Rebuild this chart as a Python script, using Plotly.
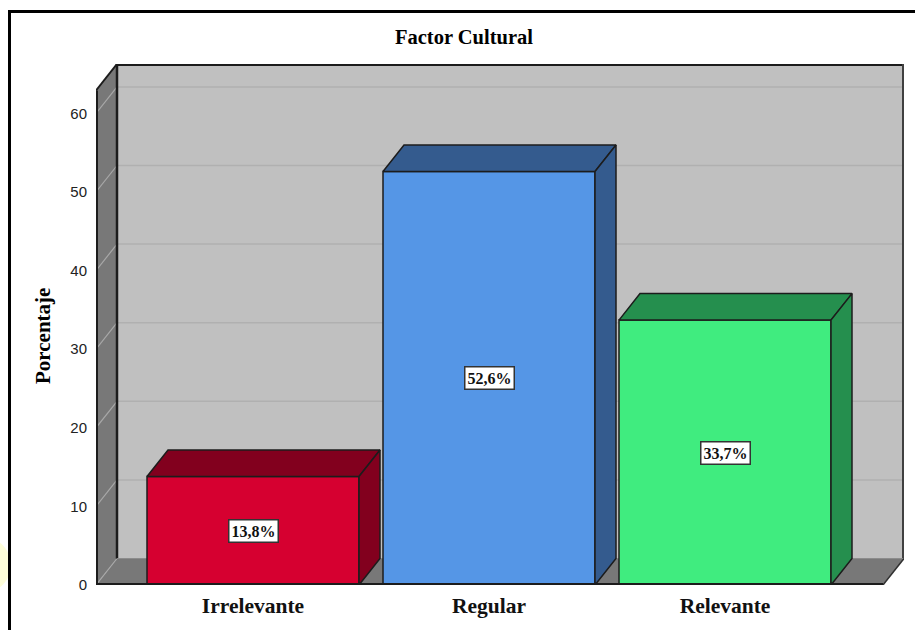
import plotly.graph_objects as go

# Chart content
title = "Factor Cultural"
y_title = "Porcentaje"
categories = ["Irrelevante", "Regular", "Relevante"]
values = [13.8, 52.6, 33.7]
value_labels = ["13,8%", "52,6%", "33,7%"]
y_ticks = [0, 10, 20, 30, 40, 50, 60]
front_colors = ["#d60030", "#5596e6", "#40ec7f"]
side_colors = ["#82001e", "#345b8e", "#258f4e"]

# Extruded look: the back plane is offset from the front plane by this much
WIDTH, HEIGHT = 915, 630
LEFT, RIGHT, TOP, BOTTOM = 96, 904, 64, 585
PX_PER_CAT = 236
PX_PER_UNIT = 7.86
DX = 21 / PX_PER_CAT
DY = 26.5 / PX_PER_UNIT
BAR_W = 212 / PX_PER_CAT

X_MIN = (LEFT - 253) / PX_PER_CAT
X_MAX = (RIGHT - 253) / PX_PER_CAT
Y_MAX = (BOTTOM - TOP) / PX_PER_UNIT
FRONT_TOP = Y_MAX - DY
FRONT_RIGHT = X_MAX - DX
EDGE = "#1c1c1c"


def poly(xs, ys, fill, line=None, width=0, layer="below"):
    path = "M" + " L".join(f"{x},{y}" for x, y in zip(xs, ys)) + " Z"
    return dict(type="path", path=path, xref="x", yref="y", fillcolor=fill, layer=layer,
                line=dict(color=line or fill, width=width))


def seg(x0, y0, x1, y1, color, width, layer="below"):
    return dict(type="line", x0=x0, y0=y0, x1=x1, y1=y1, xref="x", yref="y", layer=layer,
                line=dict(color=color, width=width))


def px_x(x):
    return (x - LEFT) / (RIGHT - LEFT)


def px_y(y):
    return (BOTTOM - y) / (BOTTOM - TOP)


def page(x0, y0, x1, y1):
    # frame lines positioned in page pixels
    return dict(type="line", xref="paper", yref="paper",
                x0=px_x(x0), x1=px_x(x1), y0=px_y(y0), y1=px_y(y1),
                line=dict(color="#000000", width=3))


shapes = [
    # pale smudge at the lower left, outside the frame
    dict(type="circle", xref="paper", yref="paper", layer="below",
         x0=px_x(-40), x1=px_x(11), y0=px_y(592), y1=px_y(538),
         fillcolor="#fdfdd9", line=dict(width=0)),
    # back wall, side wall, floor
    poly([X_MIN + DX, X_MAX, X_MAX, X_MIN + DX], [DY, DY, Y_MAX, Y_MAX], "#c0c0c0"),
    poly([X_MIN, X_MIN + DX, X_MIN + DX, X_MIN], [0, DY, Y_MAX, FRONT_TOP], "#787878"),
    poly([X_MIN, FRONT_RIGHT, X_MAX, X_MIN + DX], [0, 0, DY, DY], "#787878"),
]
for t in y_ticks:
    if t:
        shapes.append(seg(X_MIN + DX, t + DY, X_MAX, t + DY, "#b0b0b0", 1.5))
    shapes.append(seg(X_MIN, t, X_MIN + DX, t + DY, "#a8a8a8", 1.2))
shapes += [
    seg(X_MIN + DX, Y_MAX, X_MAX, Y_MAX, "#1c1c1c", 4),
    seg(X_MAX, DY, X_MAX, Y_MAX, "#404040", 4),
    seg(X_MIN + DX, DY, X_MIN + DX, Y_MAX, "#1c1c1c", 2.5),
    seg(X_MIN, 0, X_MIN, FRONT_TOP, "#1c1c1c", 4),
    seg(X_MIN, FRONT_TOP, X_MIN + DX, Y_MAX, "#1c1c1c", 2),
    seg(X_MIN + DX, DY, X_MAX, DY, "#8c8c8c", 1),
    seg(FRONT_RIGHT, 0, X_MAX, DY, "#303030", 1.5),
    seg(X_MIN, 0, FRONT_RIGHT, 0, "#1c1c1c", 4, layer="above"),
    page(9.5, 11.5, 9.5, HEIGHT),
    page(8, 11.5, WIDTH, 11.5),
]

fig = go.Figure()

# Top and right faces of each bar, then the front face on its own bar trace
for i, (v, side) in enumerate(zip(values, side_colors)):
    l, r = i - BAR_W / 2, i + BAR_W / 2
    fig.add_trace(go.Scatter(x=[l, r, r + DX, l + DX, l], y=[v, v, v + DY, v + DY, v],
                             mode="lines", fill="toself", fillcolor=side,
                             line=dict(color=EDGE, width=1.5), cliponaxis=False, hoverinfo="skip"))
    fig.add_trace(go.Scatter(x=[r, r + DX, r + DX, r, r], y=[0, DY, v + DY, v, 0],
                             mode="lines", fill="toself", fillcolor=side,
                             line=dict(color=EDGE, width=1.5), cliponaxis=False, hoverinfo="skip"))

fig.add_trace(go.Bar(x=list(range(len(categories))), y=values, width=BAR_W,
                     marker=dict(color=front_colors, line=dict(color=EDGE, width=1.5)),
                     cliponaxis=False, hoverinfo="skip"))

annotations = [
    dict(x=i, y=v / 2, xref="x", yref="y", text=f"<b>{lab}</b>", showarrow=False,
         font=dict(family="Liberation Serif", size=16, color="#111111"),
         bgcolor="#ffffff", bordercolor="#333333", borderwidth=1.5, borderpad=2)
    for i, (v, lab) in enumerate(zip(values, value_labels))
]
annotations.append(dict(x=px_x(43), y=px_y(336), xref="paper", yref="paper",
                        xanchor="center", yanchor="middle",
                        text=f"<b>{y_title}</b>", showarrow=False, textangle=-90,
                        font=dict(family="Liberation Serif", size=21, color="#000000")))

fig.update_layout(
    width=WIDTH, height=HEIGHT,
    margin=dict(l=LEFT, r=WIDTH - RIGHT, t=TOP, b=HEIGHT - BOTTOM),
    paper_bgcolor="#ffffff", plot_bgcolor="rgba(0,0,0,0)",
    showlegend=False,
    title=dict(text=f"<b>{title}</b>", x=px_x(464), y=1 - 37 / HEIGHT,
               xref="paper", xanchor="center", yanchor="middle", automargin=False,
               font=dict(family="Liberation Serif", size=20.5, color="#000000")),
    shapes=shapes, annotations=annotations,
    xaxis=dict(range=[X_MIN, X_MAX], tickvals=list(range(len(categories))),
               ticktext=[f"<b>{c}</b>" for c in categories], showgrid=False, zeroline=False,
               showline=False, ticks="outside", ticklen=1, tickcolor="rgba(0,0,0,0)", automargin=False,
               tickfont=dict(family="Liberation Serif", size=21.5, color="#111111")),
    yaxis=dict(range=[0, Y_MAX], tickvals=y_ticks, showgrid=False, zeroline=False,
               showline=False, ticks="outside", ticklen=5, tickcolor="rgba(0,0,0,0)", automargin=False,
               tickfont=dict(family="Liberation Sans", size=15, color="#222222")),
)

fig.write_html("out.html")
